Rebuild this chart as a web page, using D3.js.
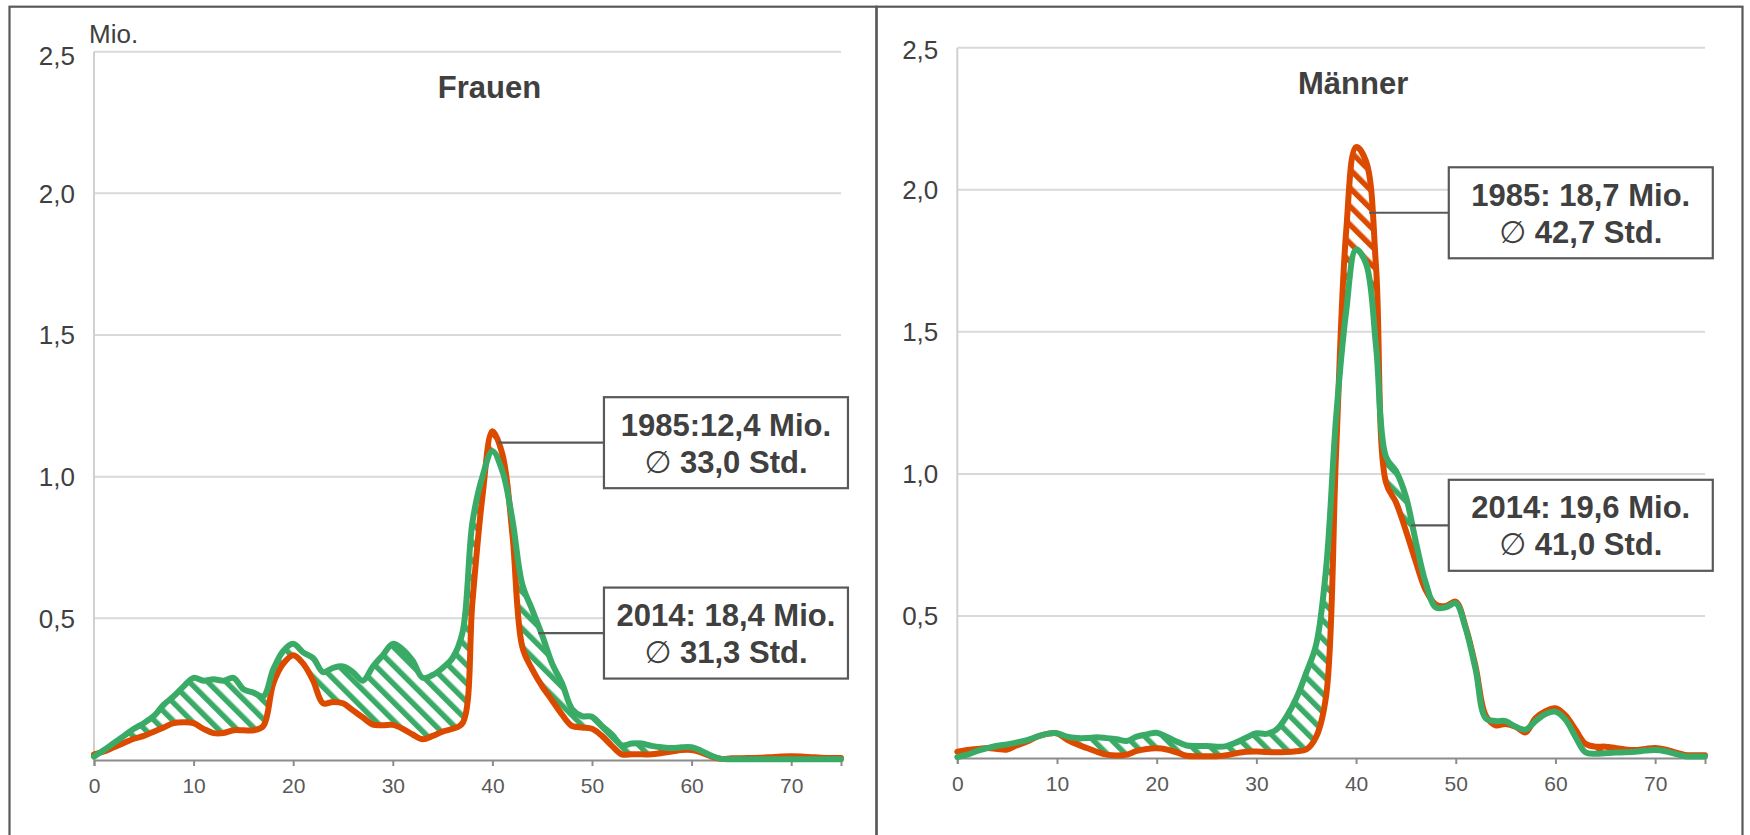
<!DOCTYPE html>
<html>
<head>
<meta charset="utf-8">
<script src="https://cdn.jsdelivr.net/npm/d3@7"></script>
<style>
  html, body { margin: 0; padding: 0; background: #ffffff; }
  svg { display: block; }
  text { font-family: "Liberation Sans", Arial, sans-serif; }
</style>
</head>
<body>
<svg id="chart" width="1750" height="835"></svg>
<script>
// ---------------- DATA ----------------
const hours = [0,1,2,3,4,5,6,7,8,9,10,11,12,13,14,15,16,17,18,19,20,21,22,23,24,25,26,27,28,29,
  30,31,32,33,34,35,36,37,38,39,40,41,42,43,44,45,46,47,48,49,50,51,52,53,54,55,56,57,58,59,
  60,61,62,63,64,65,66,67,68,69,70,71,72,73,74,75];

// Frauen, Mio. Personen je Wochenstunde
const frauen1985 = [0.02,0.03,0.045,0.06,0.075,0.085,0.1,0.115,0.13,0.133,0.13,0.11,0.095,0.095,0.105,0.105,0.105,0.12,0.27,0.34,
  0.37,0.34,0.28,0.2,0.205,0.2,0.175,0.15,0.125,0.123,0.124,0.11,0.09,0.073,0.085,0.1,0.11,0.13,0.56,0.93,
  1.16,1.08,0.8,0.4,0.32,0.26,0.21,0.16,0.12,0.115,0.11,0.085,0.05,0.02,0.02,0.02,0.02,0.025,0.03,0.035,
  0.035,0.026,0.012,0.004,0.006,0.006,0.007,0.008,0.01,0.012,0.013,0.012,0.01,0.008,0.007,0.007];
const frauen2014 = [0.012,0.035,0.06,0.085,0.11,0.13,0.155,0.195,0.225,0.26,0.29,0.28,0.285,0.28,0.29,0.25,0.238,0.225,0.32,0.385,
  0.41,0.38,0.36,0.31,0.325,0.33,0.31,0.28,0.33,0.37,0.41,0.39,0.35,0.29,0.3,0.325,0.36,0.45,0.84,1.0,
  1.09,1.02,0.85,0.62,0.53,0.44,0.34,0.27,0.18,0.155,0.153,0.12,0.09,0.052,0.058,0.058,0.05,0.045,0.042,0.045,
  0.045,0.032,0.015,0.004,0.003,0.003,0.003,0.003,0.003,0.003,0.003,0.003,0.003,0.003,0.003,0.003];

// Männer
const maenner1985 = [0.022,0.028,0.032,0.035,0.032,0.03,0.045,0.058,0.075,0.085,0.087,0.065,0.048,0.035,0.022,0.012,0.009,0.012,0.025,0.032,
  0.034,0.03,0.02,0.008,0.006,0.006,0.006,0.01,0.017,0.022,0.023,0.021,0.02,0.021,0.024,0.03,0.075,0.22,1.08,1.85,
  2.15,2.1,1.73,0.97,0.9,0.8,0.69,0.59,0.54,0.535,0.55,0.46,0.32,0.15,0.115,0.12,0.11,0.09,0.14,0.165,
  0.175,0.15,0.1,0.05,0.04,0.04,0.035,0.03,0.028,0.032,0.035,0.03,0.02,0.011,0.01,0.01];
const maenner2014 = [0.003,0.012,0.025,0.035,0.043,0.048,0.055,0.063,0.075,0.085,0.087,0.075,0.07,0.07,0.073,0.07,0.066,0.06,0.075,0.083,
  0.089,0.075,0.058,0.044,0.042,0.042,0.04,0.042,0.055,0.072,0.087,0.085,0.1,0.145,0.21,0.3,0.4,0.67,1.2,1.57,
  1.79,1.74,1.45,1.06,1.01,0.92,0.76,0.615,0.53,0.53,0.545,0.455,0.31,0.14,0.13,0.13,0.11,0.1,0.13,0.155,
  0.163,0.135,0.075,0.02,0.015,0.017,0.019,0.02,0.022,0.026,0.028,0.024,0.015,0.006,0.005,0.005];

const xTicks = [0,10,20,30,40,50,60,70];
const yTicks = [0.5,1.0,1.5,2.0,2.5];
const yTickLabels = ["0,5","1,0","1,5","2,0","2,5"];
const titles = ["Frauen","Männer"];
const unitLabel = "Mio.";

const notesFrauen = [
  {line1:"1985:12,4 Mio.", line2:"33,0 Std.", anchorH:40.6, anchorV:1.12, boxH:51.2},
  {line1:"2014: 18,4 Mio.", line2:"31,3 Std.", anchorH:44.6, anchorV:0.448, boxH:51.2}
];
const notesMaenner = [
  {line1:"1985: 18,7 Mio.", line2:"42,7 Std.", anchorH:41.3, anchorV:1.919, boxH:49.3},
  {line1:"2014: 19,6 Mio.", line2:"41,0 Std.", anchorH:45.5, anchorV:0.819, boxH:49.3}
];

// ---------------- LAYOUT / STYLE ----------------
const C85 = "#dc4a00", C14 = "#3aab67";
const panels = [
  {id:"f", title:titles[0], s85:frauen1985, s14:frauen2014, notes:notesFrauen,
   frameX0:9.5, frameX1:876.5, x0:94, x1:841, top:51.7, bottom:760, boxW:244, showUnit:true, topLabelShift:4},
  {id:"m", title:titles[1], s85:maenner1985, s14:maenner2014, notes:notesMaenner,
   frameX0:876.5, frameX1:1742.5, x0:957.3, x1:1705, top:47.7, bottom:758, boxW:264, showUnit:false, topLabelShift:1.5}
];

const svg = d3.select("#chart");
const defs = svg.append("defs");

function hatch(id, color) {
  const p = defs.append("pattern").attr("id", id)
    .attr("patternUnits","userSpaceOnUse").attr("width",13).attr("height",13)
    .attr("patternTransform","rotate(-45)");
  p.append("rect").attr("x",0).attr("y",0).attr("width",5.5).attr("height",13).attr("fill",color);
}
hatch("hatch14", C14);
hatch("hatch85", C85);

panels.forEach(P => {
  // panel frame
  svg.append("rect").attr("x",P.frameX0).attr("y",6.7)
    .attr("width",P.frameX1-P.frameX0).attr("height",900)
    .attr("fill","none").attr("stroke","#595959").attr("stroke-width",2.2);

  const x = d3.scaleLinear().domain([0,75]).range([P.x0,P.x1]);
  const y = d3.scaleLinear().domain([0,2.5]).range([P.bottom,P.top]);
  const g = svg.append("g");

  // gridlines
  g.selectAll(".grid").data(yTicks).join("line")
    .attr("x1",P.x0).attr("x2",P.x1).attr("y1",d=>y(d)).attr("y2",d=>y(d))
    .attr("stroke","#d9d9d9").attr("stroke-width",2);
  // y axis line
  g.append("line").attr("x1",P.x0).attr("x2",P.x0).attr("y1",P.top).attr("y2",P.bottom)
    .attr("stroke","#d0d0d0").attr("stroke-width",2);
  // y tick labels
  g.selectAll(".ylab").data(yTicks).join("text")
    .attr("x",P.x0-19).attr("y",(d,i)=>y(d) + (i===yTicks.length-1 ? P.topLabelShift : 0)).attr("dy","0.36em")
    .attr("text-anchor","end").attr("font-size",26).attr("fill","#404040")
    .text((d,i)=>yTickLabels[i]);

  if (P.showUnit) {
    g.append("text").attr("x",P.x0-5).attr("y",P.top-9).attr("font-size",26)
      .attr("fill","#404040").text(unitLabel);
  }

  // data series
  const rows = hours.map((h,i)=>({h, a:P.s85[i], b:P.s14[i]}));
  const curve = d3.curveCatmullRom.alpha(0.5);
  const cid = P.id;
  defs.append("clipPath").attr("id","above85"+cid).append("path")
    .attr("d", d3.area().curve(curve).x(d=>x(d.h)).y0(d=>y(d.a)).y1(P.top-200)(rows));
  defs.append("clipPath").attr("id","above14"+cid).append("path")
    .attr("d", d3.area().curve(curve).x(d=>x(d.h)).y0(d=>y(d.b)).y1(P.top-200)(rows));

  // 2014 > 1985 : green hatch
  g.append("path")
    .attr("d", d3.area().curve(curve).x(d=>x(d.h)).y0(y(0)).y1(d=>y(d.b))(rows))
    .attr("fill","url(#hatch14)").attr("clip-path","url(#above85"+cid+")");
  // 1985 > 2014 : orange hatch
  g.append("path")
    .attr("d", d3.area().curve(curve).x(d=>x(d.h)).y0(y(0)).y1(d=>y(d.a))(rows))
    .attr("fill","url(#hatch85)").attr("clip-path","url(#above14"+cid+")");

  // x axis
  const xAxis = g.append("g").attr("transform",`translate(0,${P.bottom})`)
    .call(d3.axisBottom(x).tickValues(xTicks).tickSize(6).tickPadding(12).tickFormat(d3.format("d")));
  xAxis.select(".domain").attr("stroke","#8c8c8c").attr("stroke-width",2);
  xAxis.selectAll(".tick line").attr("stroke","#8c8c8c").attr("stroke-width",2);
  xAxis.selectAll(".tick text").attr("font-size",21).attr("fill","#595959")
    .attr("font-family","'Liberation Sans', Arial, sans-serif");

  // lines
  const l85 = d3.line().curve(curve).x(d=>x(d.h)).y(d=>y(d.a));
  const l14 = d3.line().curve(curve).x(d=>x(d.h)).y(d=>y(d.b));
  g.append("path").attr("d",l85(rows)).attr("fill","none").attr("stroke",C85)
    .attr("stroke-width",6).attr("stroke-linejoin","round").attr("stroke-linecap","round");
  g.append("path").attr("d",l14(rows)).attr("fill","none").attr("stroke",C14)
    .attr("stroke-width",6).attr("stroke-linejoin","round").attr("stroke-linecap","round");

  // title
  g.append("text").attr("x",x(39.7)).attr("y",P.top+46).attr("text-anchor","middle")
    .attr("font-size",31).attr("font-weight","bold").attr("fill","#404040").text(P.title);

  // annotations
  P.notes.forEach(n => {
    const cy = y(n.anchorV), bx = x(n.boxH), bh = 91;
    g.append("line").attr("x1",x(n.anchorH)).attr("x2",bx).attr("y1",cy).attr("y2",cy)
      .attr("stroke","#595959").attr("stroke-width",2.2);
    g.append("rect").attr("x",bx).attr("y",cy-bh/2).attr("width",P.boxW).attr("height",bh)
      .attr("fill","#ffffff").attr("stroke","#595959").attr("stroke-width",2.2);
    const cx = bx + P.boxW/2;
    g.append("text").attr("x",cx).attr("y",cy-7).attr("text-anchor","middle")
      .attr("font-size",31).attr("font-weight","bold").attr("fill","#404040").text(n.line1);
    const t2 = g.append("text").attr("x",cx).attr("y",cy+30).attr("text-anchor","middle")
      .attr("font-size",31).attr("font-weight","bold").attr("fill","#404040");
    t2.append("tspan").attr("font-weight","normal").attr("font-family","'DejaVu Sans', sans-serif").text("\u2205");
    t2.append("tspan").text(" " + n.line2);
  });
});
</script>
</body>
</html>
